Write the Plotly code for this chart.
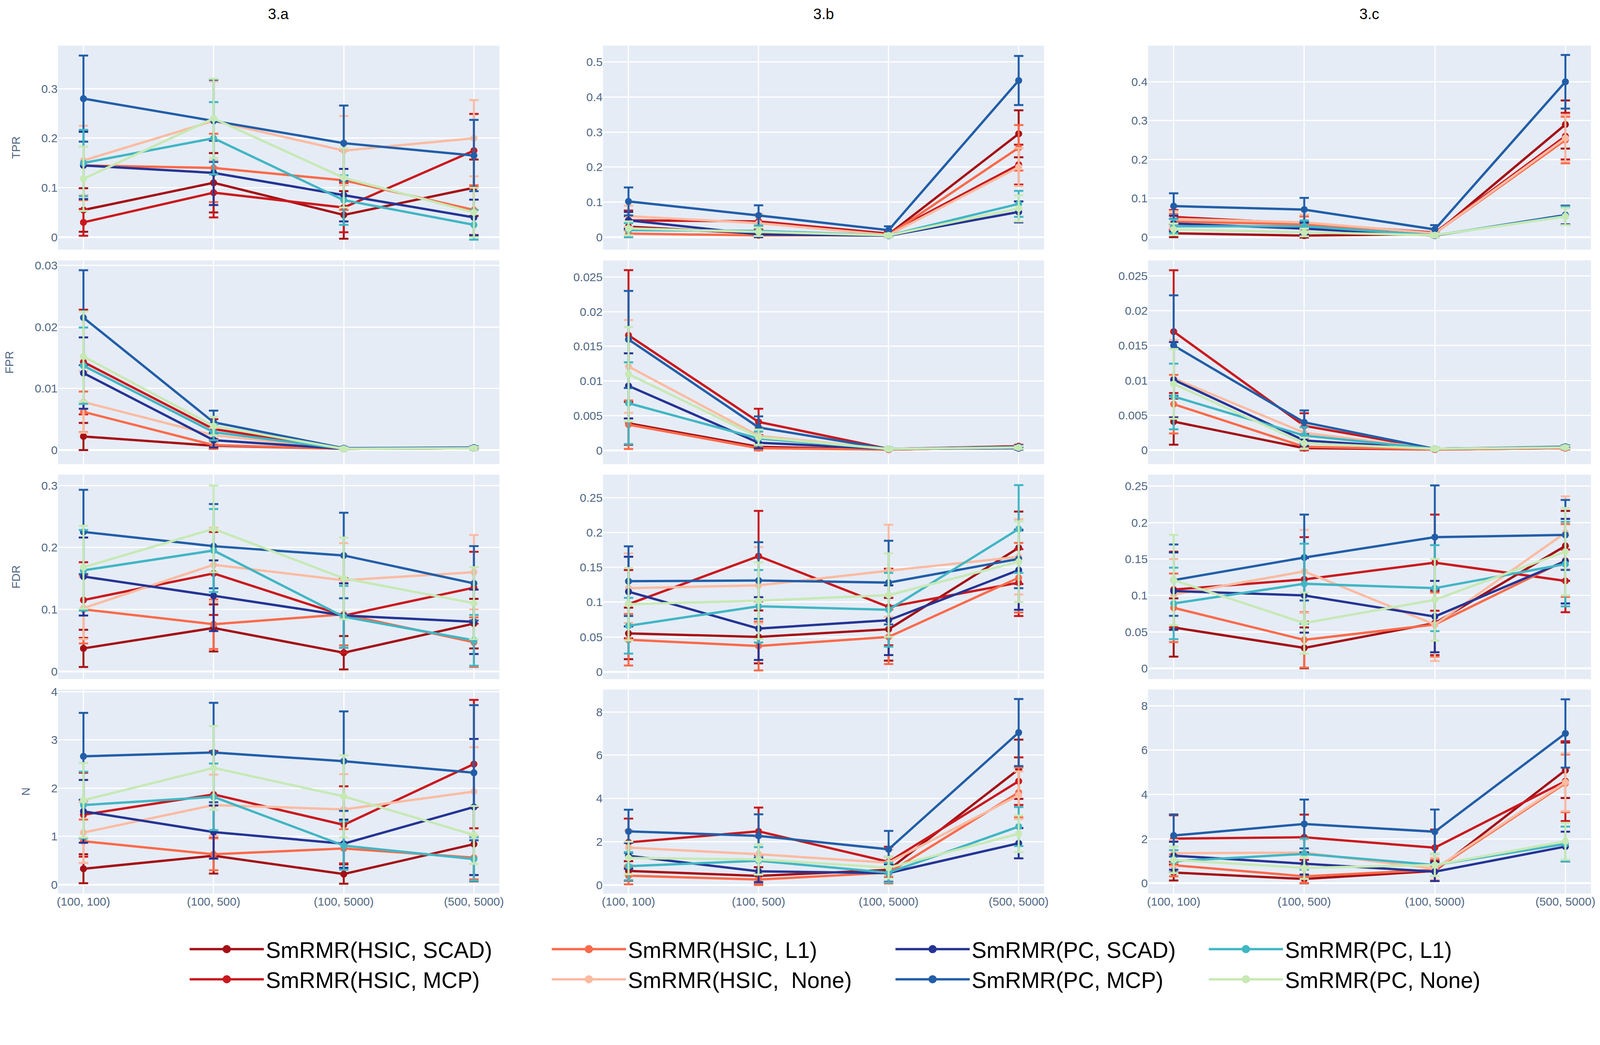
import plotly.graph_objects as go
from plotly.subplots import make_subplots

CATEGORIES = ["(100, 100)", "(100, 500)", "(100, 5000)", "(500, 5000)"]
SERIES = ["SmRMR(HSIC, SCAD)", "SmRMR(HSIC, MCP)", "SmRMR(HSIC, L1)", "SmRMR(HSIC,  None)",
          "SmRMR(PC, SCAD)", "SmRMR(PC, MCP)", "SmRMR(PC, L1)", "SmRMR(PC, None)"]
COLORS = ["#a50f15", "#cb181d", "#fb6a4a", "#fcbba1",
          "#253494", "#225ea8", "#41b6c4", "#c7e9b4"]
GROUPS = ["g1", "g1", "g2", "g2", "g3", "g3", "g4", "g4"]
COLUMN_TITLES = ["3.a", "3.b", "3.c"]
METRICS = ["TPR", "FPR", "FDR", "N"]

# series order in every panel: HSIC SCAD, HSIC MCP, HSIC L1, HSIC None, PC SCAD, PC MCP, PC L1, PC None
tpr_a_mean = [[0.055, 0.11, 0.045, 0.10], [0.03, 0.09, 0.06, 0.175], [0.145, 0.14, 0.115, 0.055],
              [0.155, 0.235, 0.175, 0.20], [0.145, 0.13, 0.085, 0.04], [0.28, 0.235, 0.19, 0.165],
              [0.15, 0.20, 0.075, 0.025], [0.118, 0.24, 0.12, 0.05]]
tpr_a_err = [[0.044, 0.06, 0.048, 0.057], [0.027, 0.05, 0.05, 0.074], [0.07, 0.069, 0.06, 0.05],
             [0.07, 0.08, 0.07, 0.077], [0.068, 0.065, 0.053, 0.036], [0.087, 0.083, 0.076, 0.072],
             [0.067, 0.073, 0.05, 0.03], [0.065, 0.08, 0.06, 0.05]]

tpr_b_mean = [[0.03, 0.01, 0.008, 0.295], [0.048, 0.045, 0.01, 0.207], [0.01, 0.005, 0.006, 0.255],
              [0.06, 0.04, 0.006, 0.20], [0.048, 0.008, 0.004, 0.072], [0.102, 0.062, 0.02, 0.447],
              [0.02, 0.018, 0.005, 0.095], [0.025, 0.015, 0.005, 0.082]]
tpr_b_err = [[0.03, 0.01, 0.005, 0.067], [0.028, 0.02, 0.008, 0.057], [0.01, 0.005, 0.005, 0.065],
             [0.03, 0.025, 0.005, 0.054], [0.024, 0.008, 0.004, 0.03], [0.04, 0.029, 0.011, 0.07],
             [0.02, 0.015, 0.005, 0.037], [0.02, 0.012, 0.005, 0.037]]

tpr_c_mean = [[0.01, 0.004, 0.008, 0.29], [0.052, 0.035, 0.012, 0.26], [0.04, 0.033, 0.01, 0.25],
              [0.047, 0.038, 0.01, 0.255], [0.035, 0.022, 0.004, 0.057], [0.08, 0.071, 0.02, 0.40],
              [0.028, 0.028, 0.005, 0.055], [0.02, 0.012, 0.005, 0.053]]
tpr_c_err = [[0.01, 0.005, 0.005, 0.062], [0.018, 0.02, 0.008, 0.06], [0.02, 0.02, 0.006, 0.06],
             [0.02, 0.02, 0.006, 0.06], [0.02, 0.015, 0.004, 0.024], [0.033, 0.03, 0.011, 0.069],
             [0.018, 0.015, 0.005, 0.024], [0.015, 0.01, 0.005, 0.022]]

fpr_a_mean = [[0.0022, 0.0007, 0.0002, 0.0003], [0.0143, 0.0034, 0.0002, 0.0003], [0.0062, 0.0008, 0.0002, 0.0003],
              [0.0078, 0.0024, 0.0002, 0.0003], [0.0125, 0.0016, 0.0002, 0.0003], [0.0215, 0.0045, 0.0003, 0.0004],
              [0.0137, 0.0029, 0.0002, 0.0003], [0.0152, 0.0039, 0.0002, 0.0003]]
fpr_a_err = [[0.0022, 0.0005, 0.0002, 0.0002], [0.0085, 0.0016, 0.0002, 0.0002], [0.0033, 0.0006, 0.0002, 0.0002],
             [0.005, 0.0012, 0.0002, 0.0002], [0.0058, 0.0012, 0.0002, 0.0002], [0.0077, 0.0019, 0.0002, 0.0002],
             [0.0062, 0.0013, 0.0002, 0.0002], [0.0073, 0.0015, 0.0002, 0.0002]]

fpr_b_mean = [[0.0039, 0.0005, 0.0001, 0.0005], [0.0166, 0.0041, 0.0002, 0.0006], [0.0037, 0.0003, 0.0001, 0.0005],
              [0.0121, 0.0021, 0.0002, 0.0005], [0.0093, 0.0011, 0.0002, 0.0003], [0.016, 0.0033, 0.0002, 0.0005],
              [0.0068, 0.0017, 0.0002, 0.0004], [0.011, 0.0019, 0.0002, 0.0004]]
fpr_b_err = [[0.0031, 0.0004, 0.0001, 0.0002], [0.0094, 0.0019, 0.0002, 0.0002], [0.0035, 0.0003, 0.0001, 0.0002],
             [0.0067, 0.0012, 0.0002, 0.0002], [0.0047, 0.0008, 0.0002, 0.0002], [0.007, 0.0016, 0.0002, 0.0002],
             [0.0059, 0.001, 0.0002, 0.0002], [0.0068, 0.0011, 0.0002, 0.0002]]

fpr_c_mean = [[0.0041, 0.0003, 0.0001, 0.0003], [0.017, 0.0035, 0.0002, 0.0004], [0.0066, 0.0005, 0.0001, 0.0003],
              [0.0103, 0.0025, 0.0002, 0.0004], [0.0101, 0.0014, 0.0002, 0.0004], [0.015, 0.004, 0.0002, 0.0005],
              [0.0077, 0.0021, 0.0002, 0.0004], [0.0095, 0.001, 0.0002, 0.0004]]
fpr_c_err = [[0.0033, 0.0003, 0.0001, 0.0002], [0.0088, 0.0018, 0.0002, 0.0002], [0.0042, 0.0004, 0.0001, 0.0002],
             [0.0055, 0.0012, 0.0002, 0.0002], [0.0054, 0.0008, 0.0002, 0.0002], [0.0072, 0.0017, 0.0002, 0.0002],
             [0.0047, 0.0012, 0.0002, 0.0002], [0.005, 0.0008, 0.0002, 0.0002]]

fdr_a_mean = [[0.037, 0.07, 0.03, 0.077], [0.115, 0.158, 0.09, 0.135], [0.10, 0.076, 0.092, 0.047],
              [0.102, 0.172, 0.147, 0.16], [0.153, 0.122, 0.09, 0.08], [0.225, 0.202, 0.187, 0.142],
              [0.163, 0.195, 0.088, 0.05], [0.168, 0.23, 0.15, 0.11]]
fdr_a_err = [[0.03, 0.038, 0.027, 0.04], [0.061, 0.067, 0.06, 0.058], [0.055, 0.04, 0.05, 0.04],
             [0.05, 0.06, 0.06, 0.06], [0.063, 0.057, 0.052, 0.052], [0.068, 0.068, 0.069, 0.06],
             [0.065, 0.067, 0.05, 0.041], [0.067, 0.07, 0.066, 0.058]]

fdr_b_mean = [[0.055, 0.05, 0.061, 0.178], [0.097, 0.166, 0.093, 0.128], [0.046, 0.037, 0.05, 0.135],
              [0.12, 0.124, 0.145, 0.165], [0.115, 0.062, 0.074, 0.146], [0.13, 0.131, 0.128, 0.162],
              [0.066, 0.094, 0.089, 0.205], [0.097, 0.102, 0.11, 0.158]]
fdr_b_err = [[0.037, 0.038, 0.045, 0.052], [0.049, 0.065, 0.055, 0.048], [0.037, 0.035, 0.039, 0.05],
             [0.05, 0.055, 0.066, 0.054], [0.05, 0.045, 0.05, 0.057], [0.05, 0.055, 0.06, 0.042],
             [0.04, 0.052, 0.053, 0.063], [0.052, 0.055, 0.06, 0.058]]

fdr_c_mean = [[0.056, 0.028, 0.062, 0.168], [0.108, 0.122, 0.145, 0.12], [0.083, 0.039, 0.06, 0.148],
              [0.101, 0.133, 0.06, 0.186], [0.106, 0.10, 0.071, 0.147], [0.121, 0.152, 0.18, 0.183],
              [0.089, 0.116, 0.11, 0.143], [0.121, 0.062, 0.094, 0.16]]
fdr_c_err = [[0.04, 0.028, 0.044, 0.048], [0.052, 0.058, 0.066, 0.043], [0.047, 0.038, 0.044, 0.05],
             [0.049, 0.057, 0.05, 0.05], [0.053, 0.051, 0.049, 0.058], [0.049, 0.059, 0.071, 0.048],
             [0.049, 0.055, 0.059, 0.058], [0.062, 0.042, 0.056, 0.06]]

n_a_mean = [[0.33, 0.6, 0.22, 0.84], [1.45, 1.87, 1.24, 2.5], [0.9, 0.63, 0.75, 0.56],
            [1.08, 1.65, 1.56, 1.93], [1.52, 1.09, 0.85, 1.61], [2.66, 2.74, 2.56, 2.32],
            [1.65, 1.82, 0.81, 0.53], [1.75, 2.42, 1.83, 1.03]]
n_a_err = [[0.3, 0.37, 0.2, 0.77], [0.87, 0.9, 0.8, 1.33], [0.45, 0.33, 0.4, 0.45],
           [0.63, 0.63, 0.73, 0.92], [0.65, 0.55, 0.5, 1.41], [0.9, 1.03, 1.03, 1.4],
           [0.69, 0.69, 0.5, 0.45], [0.77, 0.87, 0.85, 0.6]]

n_b_mean = [[0.65, 0.42, 0.7, 5.35], [1.97, 2.48, 1.07, 4.8], [0.43, 0.25, 0.57, 4.28],
            [1.73, 1.42, 1.03, 4.15], [1.35, 0.63, 0.55, 1.93], [2.48, 2.27, 1.65, 7.05],
            [0.87, 1.12, 0.57, 2.7], [1.25, 1.18, 0.8, 2.37]]
n_b_err = [[0.45, 0.4, 0.6, 1.37], [1.1, 1.1, 0.7, 1.1], [0.4, 0.25, 0.5, 1.15],
           [0.8, 0.8, 0.6, 1.1], [0.6, 0.5, 0.4, 0.7], [1.0, 1.0, 0.85, 1.55],
           [0.65, 0.63, 0.45, 0.9], [0.75, 0.7, 0.5, 0.85]]

n_c_mean = [[0.48, 0.19, 0.55, 5.09], [2.01, 2.07, 1.6, 4.6], [0.81, 0.31, 0.6, 4.5],
            [1.35, 1.38, 0.65, 4.55], [1.24, 0.89, 0.52, 1.65], [2.15, 2.67, 2.32, 6.75],
            [0.99, 1.32, 0.82, 1.77], [1.05, 0.69, 0.82, 1.89]]
n_c_err = [[0.36, 0.19, 0.45, 1.25], [1.05, 1.02, 0.82, 1.8], [0.5, 0.3, 0.5, 1.3],
           [0.6, 0.6, 0.5, 1.3], [0.63, 0.5, 0.42, 0.67], [0.95, 1.1, 1.0, 1.54],
           [0.5, 0.7, 0.5, 0.78], [0.6, 0.5, 0.5, 0.83]]

PANELS = [
    [(tpr_a_mean, tpr_a_err), (tpr_b_mean, tpr_b_err), (tpr_c_mean, tpr_c_err)],
    [(fpr_a_mean, fpr_a_err), (fpr_b_mean, fpr_b_err), (fpr_c_mean, fpr_c_err)],
    [(fdr_a_mean, fdr_a_err), (fdr_b_mean, fdr_b_err), (fdr_c_mean, fdr_c_err)],
    [(n_a_mean, n_a_err), (n_b_mean, n_b_err), (n_c_mean, n_c_err)],
]

# ---- layout / style ----
W, H = 4080, 2544
X_DOM = [[0.0344, 0.3114], [0.3764, 0.6532], [0.7184, 0.9963]]
Y_DOM = [[0.7519, 0.9572], [0.5359, 0.7410], [0.3196, 0.5254], [0.1037, 0.3091]]
Y_RANGES = [
    [[-0.025, 0.387], [-0.0355, 0.5465], [-0.032, 0.493]],
    [[-0.0023, 0.0308], [-0.002, 0.0274], [-0.002, 0.0272]],
    [[-0.0125, 0.3175], [-0.0105, 0.283], [-0.0148, 0.2658]],
    [[-0.184, 4.045], [-0.397, 9.04], [-0.467, 8.73]],
]
Y_DTICK = [[0.1, 0.1, 0.1], [0.01, 0.005, 0.005], [0.1, 0.05, 0.05], [1, 2, 2]]

FONT_FAMILY = "Arial, 'Liberation Sans', sans-serif"
LINE_W = 6
MARKER_SIZE = 18
ERR_THICK = 5
ERR_WIDTH = 12
TICK_FONT = 30
AXIS_TITLE_FONT = 29
COL_TITLE_FONT = 38
LEGEND_FONT = 57
AXIS_TEXT_COLOR = "#506784"
LEGEND_ITEM_W = 190
LEGEND_ENTRY_W = [722, 722, 675, 675, 597, 597, 597, 597]

fig = make_subplots(rows=4, cols=3)

# legend entries (no data of their own)
for i, name in enumerate(SERIES):
    fig.add_trace(
        go.Scatter(
            x=[None], y=[None], name=name, mode="lines+markers",
            line=dict(color=COLORS[i], width=6),
            marker=dict(color=COLORS[i], size=16, line=dict(color=COLORS[i], width=5)),
            legendgroup=GROUPS[i], legendwidth=LEGEND_ENTRY_W[i],
            showlegend=True, hoverinfo="skip",
        ),
        row=1, col=1,
    )

for r in range(4):
    for c in range(3):
        means, errs = PANELS[r][c]
        for i, name in enumerate(SERIES):
            fig.add_trace(
                go.Scatter(
                    x=CATEGORIES, y=means[i], name=name,
                    mode="lines+markers",
                    line=dict(color=COLORS[i], width=LINE_W),
                    marker=dict(color=COLORS[i], size=MARKER_SIZE),
                    error_y=dict(type="data", array=errs[i], visible=True,
                                 color=COLORS[i], thickness=ERR_THICK, width=ERR_WIDTH),
                    legendgroup=GROUPS[i],
                    showlegend=False,
                ),
                row=r + 1, col=c + 1,
            )

for r in range(4):
    for c in range(3):
        idx = r * 3 + c + 1
        xname = "xaxis" if idx == 1 else f"xaxis{idx}"
        yname = "yaxis" if idx == 1 else f"yaxis{idx}"
        fig.layout[xname].update(
            domain=X_DOM[c], type="category", categoryorder="array", categoryarray=CATEGORIES,
            range=[-0.196, 3.196],
            showticklabels=(r == 3), tickfont=dict(size=TICK_FONT, color=AXIS_TEXT_COLOR),
            gridwidth=3, automargin=False, ticks="",
        )
        yupd = dict(
            domain=Y_DOM[r], range=Y_RANGES[r][c], dtick=Y_DTICK[r][c], tick0=0,
            tickfont=dict(size=TICK_FONT, color=AXIS_TEXT_COLOR), gridwidth=3, zerolinewidth=5,
            automargin=False, ticks="",
        )
        if c == 0:
            yupd["title"] = dict(text=METRICS[r], standoff=45,
                                 font=dict(size=AXIS_TITLE_FONT, color=AXIS_TEXT_COLOR))
        fig.layout[yname].update(**yupd)

for c, t in enumerate(COLUMN_TITLES):
    fig.add_annotation(
        text=t, x=(X_DOM[c][0] + X_DOM[c][1]) / 2, y=0.9888,
        xref="paper", yref="paper", xanchor="center", yanchor="middle",
        showarrow=False, font=dict(size=COL_TITLE_FONT, color="black"),
    )

fig.update_layout(
    width=W, height=H,
    margin=dict(l=0, r=0, t=0, b=0, pad=0, autoexpand=False),
    paper_bgcolor="white",
    font=dict(family=FONT_FAMILY),
    legend=dict(
        orientation="h", x=0.1158, xanchor="left", y=0.0, yanchor="bottom",
        font=dict(size=LEGEND_FONT, color="black"),
        itemwidth=LEGEND_ITEM_W, entrywidthmode="pixels",
        bgcolor="rgba(0,0,0,0)",
    ),
)

fig.write_html("out.html")
